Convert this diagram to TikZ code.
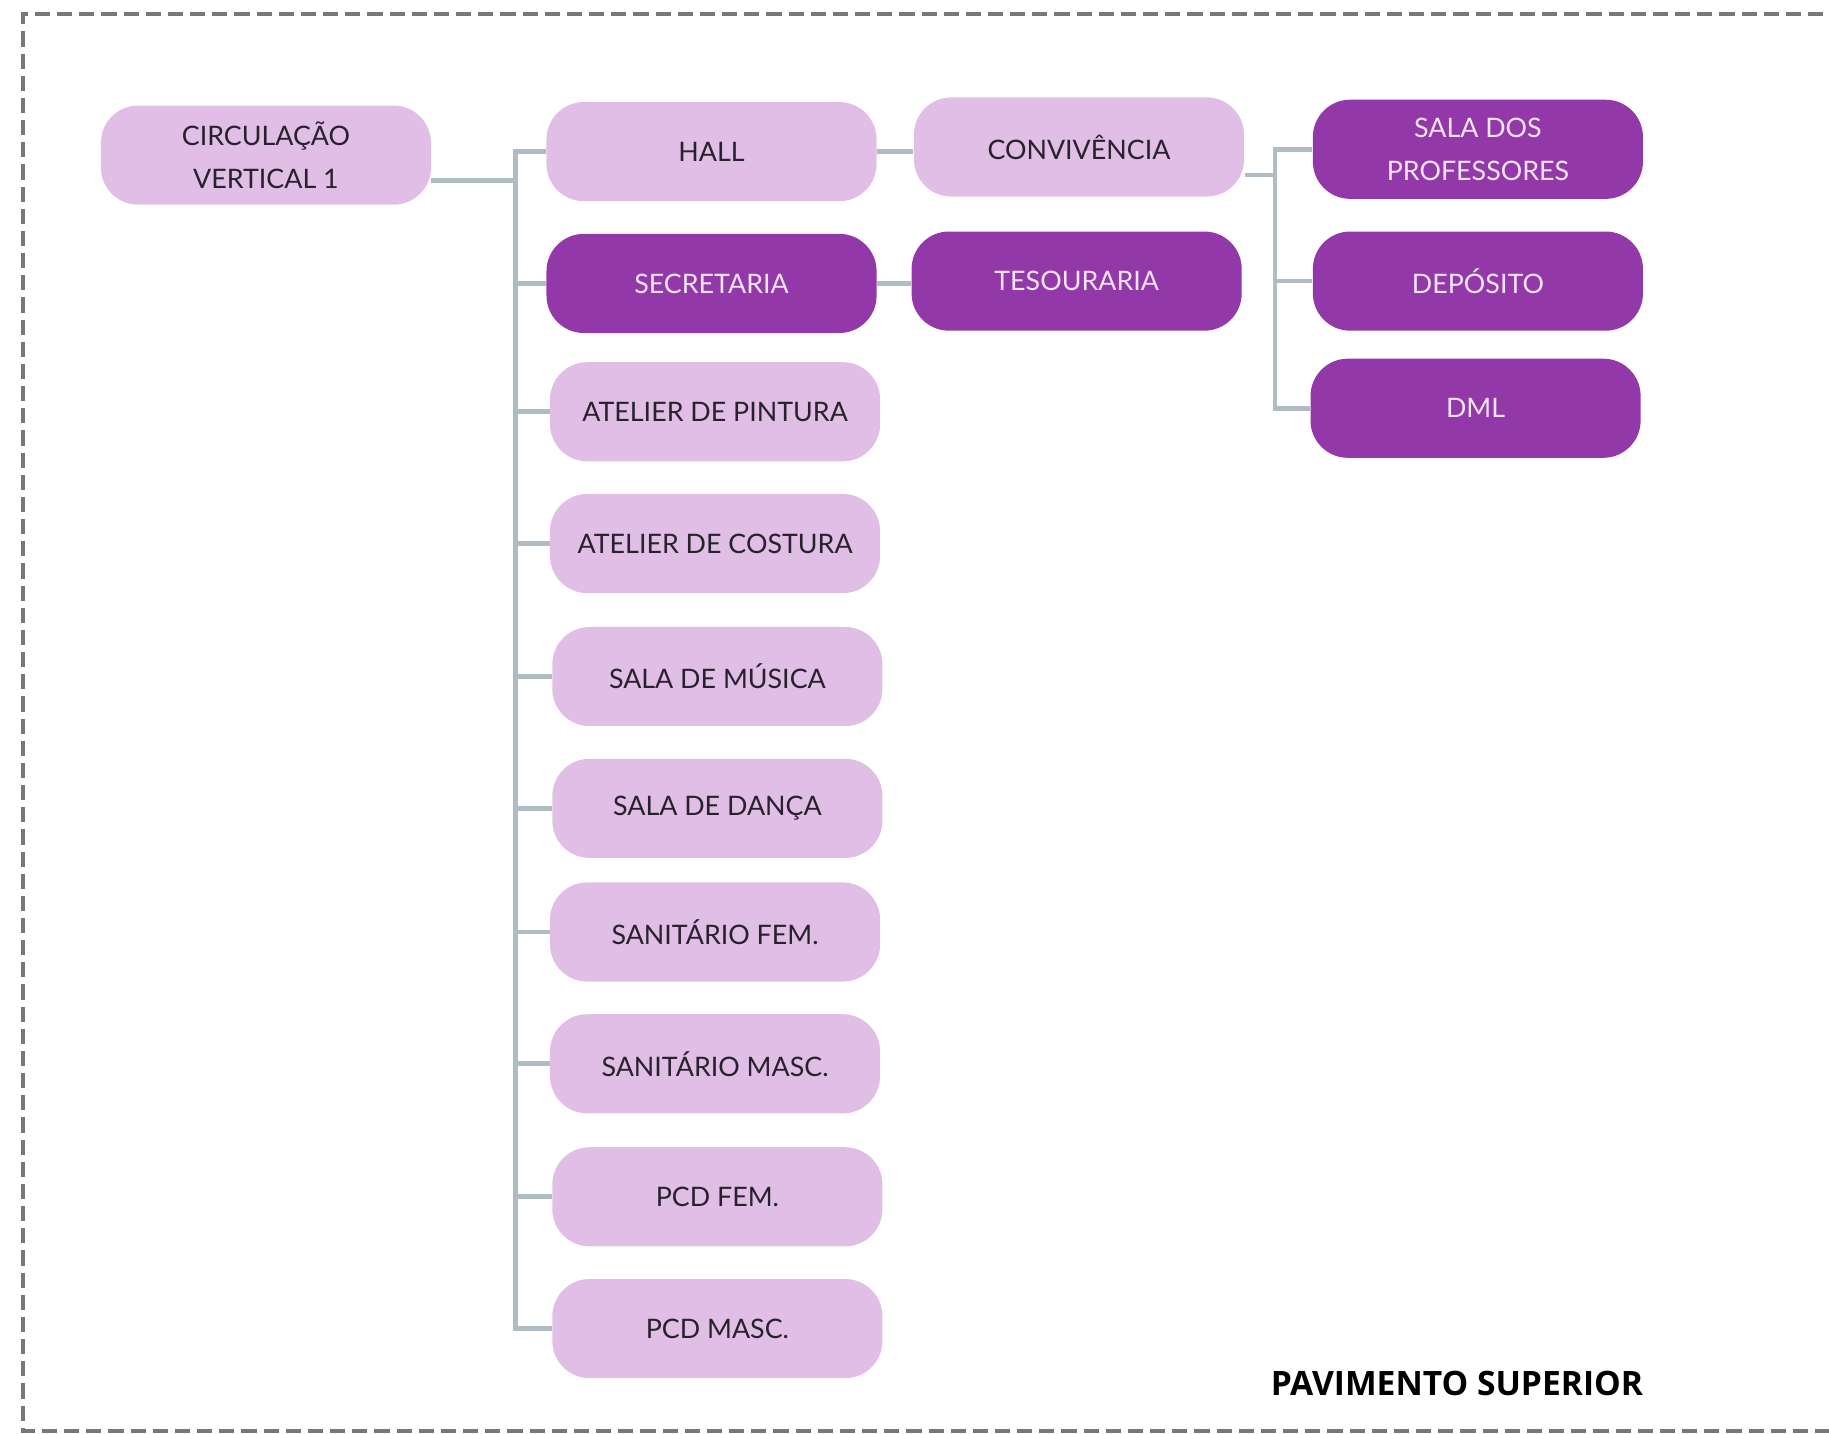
\documentclass[tikz,border=0pt]{standalone}
\usepackage{fontspec}
\setmainfont{Lato}
\newfontfamily\labelfont{Open Sans}
\definecolor{lightp}{RGB}{224,190,230}
\definecolor{darkp}{RGB}{147,56,168}
\definecolor{textdark}{RGB}{40,34,44}
\definecolor{textlight}{RGB}{244,228,248}
\definecolor{linec}{RGB}{176,188,196}
\definecolor{borderc}{RGB}{120,120,120}
\tikzset{
  roomlt/.style={draw=none, fill=lightp, rounded corners=16pt, minimum width=141.5pt,
    minimum height=42.5pt, text=textdark, align=center, inner sep=0pt,
    font=\fontsize{11.5}{18.5}\selectfont},
  roomdk/.style={roomlt, fill=darkp, text=textlight},
  conn/.style={draw=linec, line width=2pt},
  frame/.style={draw=borderc, line width=1.6pt, dash pattern=on 6.5pt off 3pt}
}
\begin{document}
\begin{tikzpicture}[x=0.5pt,y=-0.5pt]
\useasboundingbox (0,0) rectangle (1568,1229);
\clip (0,0) rectangle (1568,1229);
\draw[frame] (1620,12) -- (20,12) -- (20,1227) -- (1620,1227);

\node[roomlt] (circ) at (228,133) {CIRCULAÇÃO\\VERTICAL 1};
\node[roomlt] (hall) at (610,130) {HALL};
\node[roomlt] (conv) at (925,126) {CONVIVÊNCIA};
\node[roomdk] (secr) at (610,243) {SECRETARIA};
\node[roomdk] (tes) at (923,241) {TESOURARIA};
\node[roomdk] (prof) at (1267,128) {SALA DOS\\PROFESSORES};
\node[roomdk] (dep) at (1267,241) {DEPÓSITO};
\node[roomdk] (dml) at (1265,350) {DML};
\node[roomlt] (pint) at (613,353) {ATELIER DE PINTURA};
\node[roomlt] (cost) at (613,466) {ATELIER DE COSTURA};
\node[roomlt] (mus) at (615,580) {SALA DE MÚSICA};
\node[roomlt] (danc) at (615,693) {SALA DE DANÇA};
\node[roomlt] (sanf) at (613,799) {SANITÁRIO FEM.};
\node[roomlt] (sanm) at (613,912) {SANITÁRIO MASC.};
\node[roomlt] (pcdf) at (615,1026) {PCD FEM.};
\node[roomlt] (pcdm) at (615,1139) {PCD MASC.};

\node[font=\labelfont\bfseries\fontsize{14.4}{17}\selectfont, text=black] (title) at (1249,1186) {PAVIMENTO SUPERIOR};

\coordinate (t1) at (442,130);
\coordinate (t2) at (1093,130);

% main trunk
\draw[conn] ([yshift=-11pt]circ.east) -- ([yshift=-11pt]circ.east -| t1);
\draw[conn, line cap=rect] (hall.west -| t1) -- (pcdm.west -| t1);
\foreach \n in {hall,secr,pint,cost,mus,danc,sanf,sanm,pcdf,pcdm}
  \draw[conn] (\n.west -| t1) -- (\n.west);
% side links
\draw[conn] (hall.east) -- (hall.east -| conv.west);
\draw[conn] (secr.east) -- (secr.east -| tes.west);
% second trunk
\draw[conn] ([yshift=-12pt]conv.east) -- ([yshift=-12pt]conv.east -| t2);
\draw[conn, line cap=rect] (prof.west -| t2) -- (dml.west -| t2);
\foreach \n in {prof,dep,dml}
  \draw[conn] (\n.west -| t2) -- (\n.west);
\end{tikzpicture}
\end{document}
